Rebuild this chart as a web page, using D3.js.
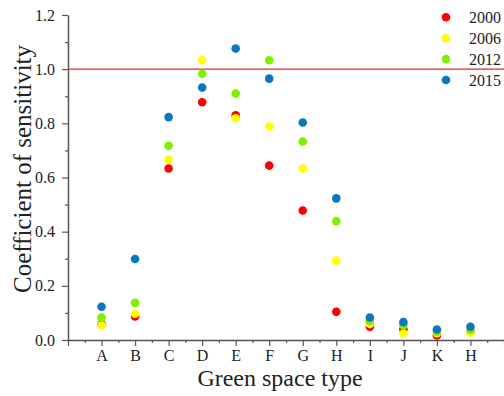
<!DOCTYPE html>
<html>
    <head>
        <title>Coefficient of sensitivity</title>
        <script src="https://d3js.org/d3.v7.min.js"></script>
        <style>
            body { margin: 0; background: #fff; }
            text { font-family: "Liberation Serif", "Times New Roman", serif; fill: #222; }
        </style>
    </head>
    <body>
        <div id="chart"></div>
        <script>
            //  green space types (last one really is labelled "H" again)
            const categories = ["A", "B", "C", "D", "E", "F", "G", "H", "I", "J", "K", "H"];
            const years = ["2000", "2006", "2012", "2015"];
            const colors = ["#ff0000", "#ffff00", "#80f000", "#0a78c0"];

            //  values, one list per year
            const v2000 = [0.058, 0.087, 0.633, 0.878, 0.830, 0.644, 0.478, 0.104, 0.049, 0.040, 0.017, 0.030];
            const v2006 = [0.054, 0.097, 0.666, 1.033, 0.819, 0.788, 0.633, 0.293, 0.059, 0.024, 0.025, 0.027];
            const v2012 = [0.083, 0.137, 0.717, 0.983, 0.910, 1.033, 0.733, 0.439, 0.069, 0.054, 0.030, 0.037];
            const v2015 = [0.123, 0.299, 0.823, 0.932, 1.076, 0.965, 0.803, 0.523, 0.083, 0.066, 0.039, 0.049];
            const series = [v2000, v2006, v2012, v2015];

            const yTicks = [0, 0.2, 0.4, 0.6, 0.8, 1.0, 1.2];
            const threshold = 1.0;

            //  chart dimensions
            const width = 504;
            const height = 396;
            const margin = {top: 15, right: 0, bottom: 56, left: 68};

            const svg = d3.select("#chart")
                .append("svg")
                    .attr("width", width)
                    .attr("height", height);

            //  x: slot 0 is the axis origin, categories sit at 1..12
            const x = d3.scaleLinear()
                .domain([0, categories.length + 1])
                .range([margin.left, width - margin.right]);

            const y = d3.scaleLinear()
                .domain([0, 1.2])
                .range([height - margin.bottom, margin.top]);

            const axisColor = "#555";

            //  minor ticks first, then the labelled ones on top
            svg.append("g")
                .attr("transform", `translate(0,${y(0)})`)
                .call(d3.axisBottom(x)
                    .tickValues(d3.range(0.5, categories.length + 1, 1))
                    .tickSize(3).tickSizeOuter(0).tickFormat(""))
                .call(g => g.select(".domain").remove());

            const xAxis = svg.append("g")
                .attr("transform", `translate(0,${y(0)})`)
                .call(d3.axisBottom(x)
                    .tickValues(d3.range(0, categories.length + 2))
                    .tickSize(6).tickSizeOuter(0).tickPadding(4)
                    .tickFormat(i => (i >= 1 && i <= categories.length) ? categories[i - 1] : ""));

            svg.append("g")
                .attr("transform", `translate(${x(0)},0)`)
                .call(d3.axisLeft(y)
                    .tickValues(d3.range(0.1, 1.2, 0.2))
                    .tickSize(3).tickSizeOuter(0).tickFormat(""))
                .call(g => g.select(".domain").remove());

            const yAxis = svg.append("g")
                .attr("transform", `translate(${x(0)},0)`)
                .call(d3.axisLeft(y)
                    .tickValues(yTicks)
                    .tickSize(6).tickSizeOuter(0).tickPadding(7)
                    .tickFormat(d3.format(".1f")));

            svg.selectAll(".domain").attr("stroke", axisColor).attr("stroke-width", 1.5);
            svg.selectAll(".tick line").attr("stroke", axisColor).attr("stroke-width", 1.2);
            svg.selectAll(".tick text")
                .attr("font-size", 16)
                .attr("font-family", "Liberation Serif")
                .attr("fill", "#222");

            //  the reference line at 1.0
            svg.append("line")
                .attr("x1", x(0))
                .attr("x2", width)
                .attr("y1", y(threshold))
                .attr("y2", y(threshold))
                .attr("stroke", "#e3262b")
                .attr("stroke-width", 1.3);

            //  dots, series order so 2015 ends up on top
            series.forEach((vals, s) => {
                svg.append("g")
                    .selectAll("circle")
                    .data(vals)
                    .join("circle")
                        .attr("cx", (d, i) => x(i + 1))
                        .attr("cy", d => y(d))
                        .attr("r", 4.3)
                        .attr("fill", colors[s]);
            });

            //  legend
            const legend = svg.append("g")
                .selectAll("g")
                .data(years)
                .join("g")
                    .attr("transform", (d, i) => `translate(446,${17.3 + i * 20.9})`);

            legend.append("circle")
                .attr("r", 4.3)
                .attr("fill", (d, i) => colors[i]);

            legend.append("text")
                .attr("x", 23)
                .attr("y", 5.5)
                .attr("font-size", 16)
                .text(d => d);

            //  axis titles
            svg.append("text")
                .attr("x", 280)
                .attr("y", 386)
                .attr("text-anchor", "middle")
                .attr("font-size", 24)
                .text("Green space type");

            svg.append("text")
                .attr("transform", `translate(31,${169}) rotate(-90)`)
                .attr("text-anchor", "middle")
                .attr("font-size", 25)
                .text("Coefficient of sensitivity");
        </script>
    </body>
</html>
